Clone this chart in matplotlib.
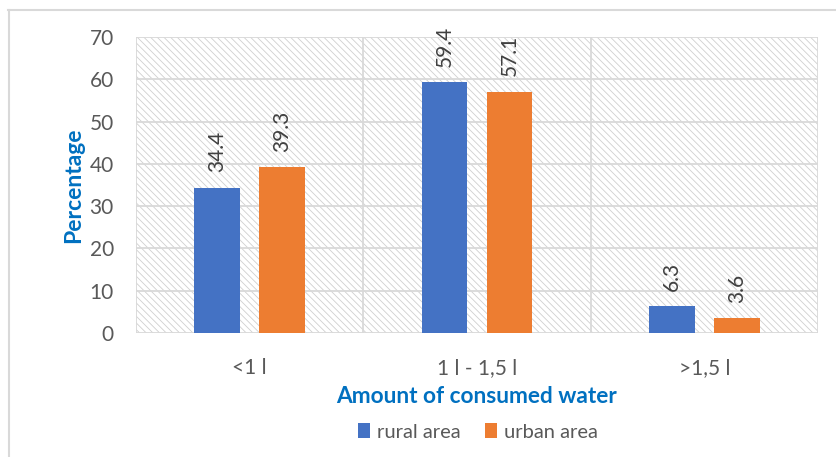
import matplotlib
matplotlib.use("Agg")
import matplotlib.pyplot as plt
from matplotlib.patches import Rectangle
from matplotlib.lines import Line2D
import numpy as np

plt.rcParams['font.family'] = ['Lato', 'DejaVu Sans']
plt.rcParams['hatch.linewidth'] = 0.6
plt.rcParams['hatch.color'] = '#d0d0d0'

categories = ['<1 l', '1 l - 1,5 l', '>1,5 l']
rural = [34.4, 59.4, 6.3]
urban = [39.3, 57.1, 3.6]
series_names = ['rural area', 'urban area']
colors = ['#4472C4', '#ED7D31']

fig = plt.figure(figsize=(8.37, 4.57), dpi=100)
fig.patch.set_facecolor('white')

# outer chart frame (top and left edges visible)
fig.add_artist(Line2D([8/837, 1.0], [1 - 10/457, 1 - 10/457], transform=fig.transFigure,
                      color='#d9d9d9', lw=1.5))
fig.add_artist(Line2D([9/837, 9/837], [0, 1 - 10/457], transform=fig.transFigure,
                      color='#d9d9d9', lw=1.5))

ax = fig.add_axes([136/837, 1 - 333/457, (818 - 136)/837, (333 - 37)/457])
ax.set_xlim(-0.5, 2.5)
ax.set_ylim(0, 70)

# hatched plot background
bg = Rectangle((0, 0), 1, 1, transform=ax.transAxes, facecolor='white',
               edgecolor='#d0d0d0', hatch='\\\\\\\\\\', lw=0, zorder=0)
ax.add_patch(bg)

# gridlines
for y in range(0, 80, 10):
    ax.axhline(y, color='#d9d9d9', lw=1.3, zorder=1)
for xv in [-0.5, 0.5, 1.5, 2.5]:
    ax.axvline(xv, color='#d9d9d9', lw=1.3, zorder=1)

x = np.arange(len(categories))
w = 0.2
off = 0.143
b1 = ax.bar(x - off, rural, w, color=colors[0], zorder=3, label=series_names[0])
b2 = ax.bar(x + off, urban, w, color=colors[1], zorder=3, label=series_names[1])

for bars, vals in [(b1, rural), (b2, urban)]:
    for rect, v in zip(bars, vals):
        ax.text(rect.get_x() + rect.get_width() / 2, v + 3.6, f'{v:.1f}',
                rotation=90, ha='center', va='bottom', fontsize=15, color='#404040', zorder=4)

for s in ax.spines.values():
    s.set_visible(False)
ax.set_xticks(x)
ax.set_xticklabels(categories)
ax.set_yticks(range(0, 80, 10))
ax.tick_params(axis='both', length=0, labelsize=15, colors='#595959')
ax.tick_params(axis='x', pad=18)
ax.tick_params(axis='y', pad=16)

ax.set_ylabel('Percentage', fontsize=16.5, fontweight='bold', color='#0070C0', labelpad=4)
ax.set_xlabel('Amount of consumed water', fontsize=16.3, fontweight='bold', color='#0070C0', labelpad=6)

leg = fig.legend(handles=[b1, b2], labels=series_names, loc='center',
                 bbox_to_anchor=(478/837, 1 - 432/457), ncol=2, frameon=False,
                 fontsize=14.5, handlelength=0.6, handleheight=0.7, handletextpad=0.35,
                 columnspacing=1.2, labelcolor='#595959')

fig.savefig('out.png', dpi=100, facecolor='white')
